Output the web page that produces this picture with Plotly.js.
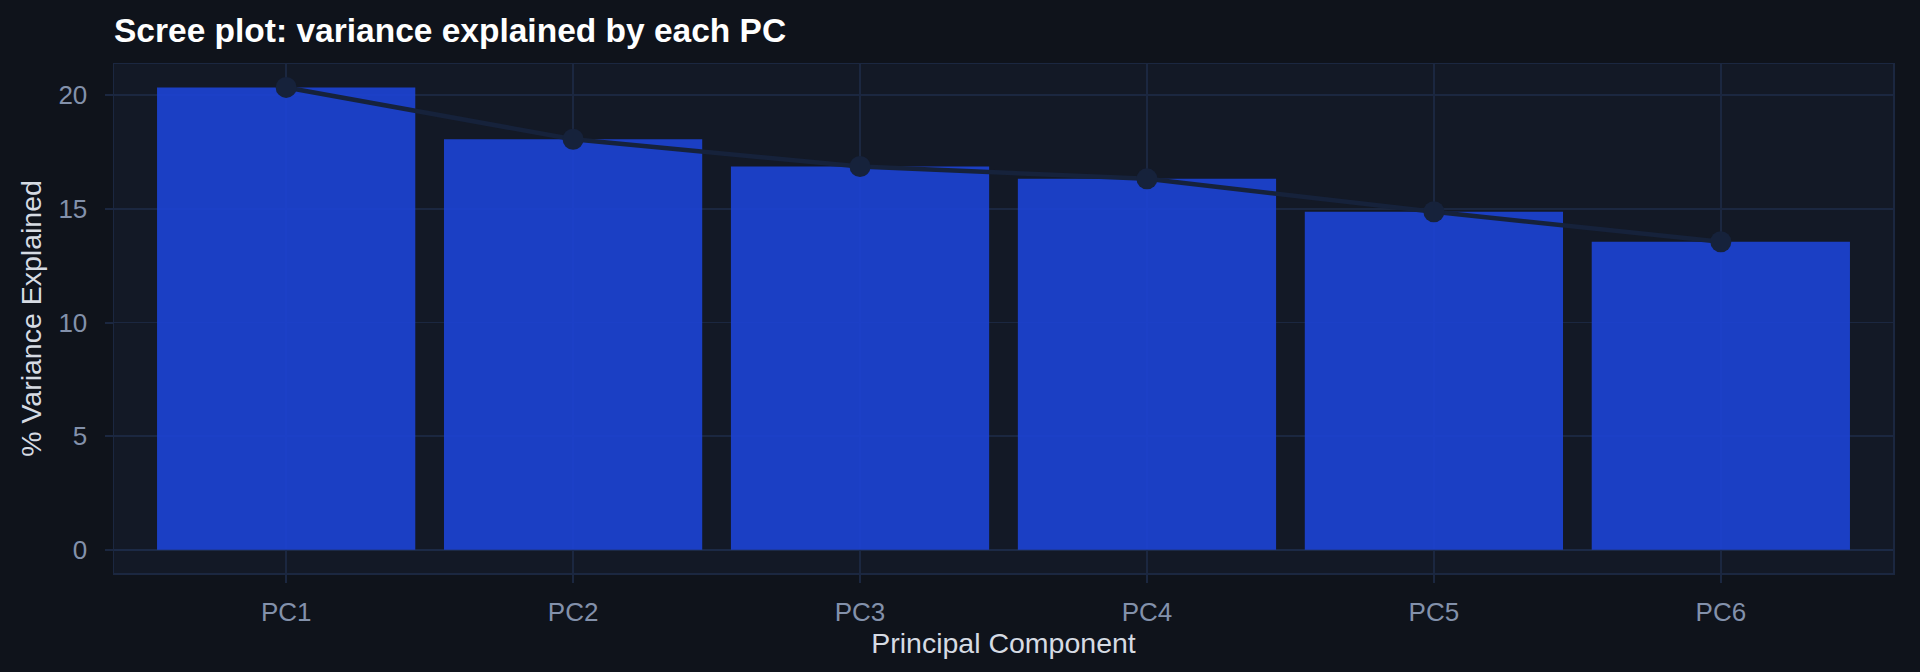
<!DOCTYPE html>
<html>
<head>
<meta charset="utf-8">
<script src="https://cdn.plot.ly/plotly-3.0.1.min.js"></script>
<style>
  html, body { margin: 0; padding: 0; background: #0f131b; }
  #scree { width: 1920px; height: 672px; }
</style>
</head>
<body>
<div id="scree"></div>
<script>
// principal components and % variance explained
var components = ['PC1', 'PC2', 'PC3', 'PC4', 'PC5', 'PC6'];
var variancePct = [20.34, 18.06, 16.86, 16.32, 14.87, 13.55];
var yTicks = [0, 5, 10, 15, 20];

var gridColor = '#1b2740';
var fontFamily = '"Liberation Sans", Arial, Helvetica, sans-serif';

var bars = {
    x: components,
    y: variancePct,
    type: 'bar',
    width: 0.9,
    marker: {color: 'rgba(29,68,214,0.9)', line: {width: 0}},
    hoverinfo: 'none'
};

var line = {
    x: components,
    y: variancePct,
    type: 'scatter',
    mode: 'lines+markers',
    line: {color: '#16223b', width: 4.5},
    marker: {color: '#16223b', size: 21},
    hoverinfo: 'none'
};

var layout = {
    width: 1920,
    height: 672,
    paper_bgcolor: '#0f131b',
    plot_bgcolor: '#131926',
    showlegend: false,
    margin: {l: 114, r: 27, t: 64, b: 99},
    font: {family: fontFamily, color: '#8391ab'},
    title: {
        text: '<b>Scree plot: variance explained by each PC</b>',
        font: {family: fontFamily, size: 33.5, color: '#ffffff'},
        xref: 'paper', x: 0, xanchor: 'left',
        yref: 'container', y: 0.955, yanchor: 'middle'
    },
    xaxis: {
        type: 'category',
        range: [-0.6, 5.6],
        showgrid: true,
        gridcolor: gridColor,
        gridwidth: 1.5,
        showline: true,
        mirror: true,
        linecolor: gridColor,
        linewidth: 1.5,
        ticks: 'outside',
        ticklen: 8,
        tickwidth: 2,
        tickcolor: gridColor,
        ticklabelstandoff: 7,
        tickfont: {size: 26, color: '#8391ab'},
        zeroline: false,
        title: {text: 'Principal Component', standoff: 4,
                font: {size: 28.5, color: '#d6dbe3'}}
    },
    yaxis: {
        range: [-1.0175, 21.37],
        tickvals: yTicks,
        showgrid: true,
        gridcolor: gridColor,
        gridwidth: 1.5,
        showline: true,
        mirror: true,
        linecolor: gridColor,
        linewidth: 1.5,
        zeroline: true,
        zerolinecolor: '#1c2a46',
        zerolinewidth: 2,
        ticks: 'outside',
        ticklen: 8,
        tickwidth: 2,
        tickcolor: gridColor,
        ticklabelstandoff: 12,
        tickfont: {size: 26, color: '#8391ab'},
        title: {text: '% Variance Explained', standoff: 8,
                font: {size: 28.5, color: '#d6dbe3'}}
    },
    bargap: 0.1,
    hovermode: false
};

Plotly.newPlot(document.getElementById('scree'), [bars, line], layout, {staticPlot: true});
</script>
</body>
</html>
